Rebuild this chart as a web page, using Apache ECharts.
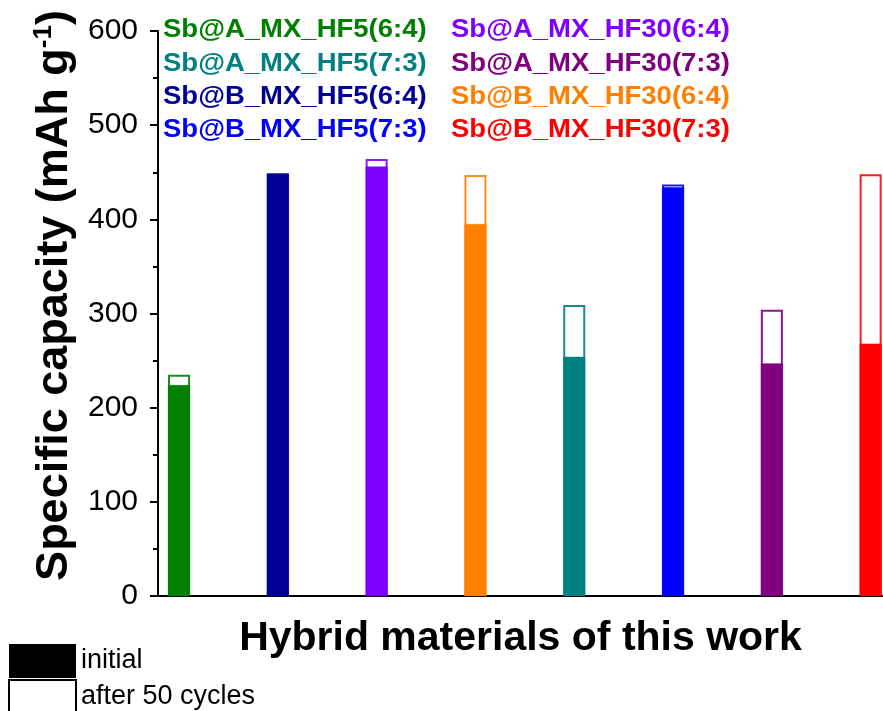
<!DOCTYPE html>
<html>
<head>
<meta charset="utf-8">
<script src="https://cdn.jsdelivr.net/npm/echarts@6/dist/echarts.min.js"></script>
<style>
  html, body { margin: 0; padding: 0; background: #fff; }
  #chart { width: 883px; height: 711px; }
</style>
</head>
<body>
<div id="chart"></div>
<script>
(function () {
	"use strict";
	// bar order along the x axis
	var barNames = ['Sb@A_MX_HF5(6:4)', 'Sb@B_MX_HF5(6:4)', 'Sb@A_MX_HF30(6:4)', 'Sb@B_MX_HF30(6:4)',
		'Sb@A_MX_HF5(7:3)', 'Sb@B_MX_HF5(7:3)', 'Sb@A_MX_HF30(7:3)', 'Sb@B_MX_HF30(7:3)'];
	var barColors = ['#008000', '#000099', '#8000ff', '#ff8000', '#008080', '#0000ff', '#800080', '#ff0000'];
	var initialValues = [224, 448, 456, 395, 254, 434, 247, 268];
	var after50Values = [235, 449, 464, 447, 309, 437, 304, 448];
	var yTicks = [0, 100, 200, 300, 400, 500, 600];

	// sample labels in the top left, two columns
	var labelCol1 = ['Sb@A_MX_HF5(6:4)', 'Sb@A_MX_HF5(7:3)', 'Sb@B_MX_HF5(6:4)', 'Sb@B_MX_HF5(7:3)'];
	var labelCol2 = ['Sb@A_MX_HF30(6:4)', 'Sb@A_MX_HF30(7:3)', 'Sb@B_MX_HF30(6:4)', 'Sb@B_MX_HF30(7:3)'];

	var chart = echarts.init(document.getElementById('chart'));

	var colorOf = function (name) {
		return barColors[barNames.indexOf(name)];
	};

	var initData = [], afterData = [];
	barNames.forEach(function (name, i) {
		initData.push({
			value: [i + 1, initialValues[i]],
			itemStyle: { color: barColors[i], borderColor: barColors[i], borderWidth: 0.5 }
		});
		afterData.push({
			value: [i + 1, after50Values[i]],
			itemStyle: { color: '#fff', borderColor: barColors[i], borderWidth: 2, opacity: 0.9 }
		});
	});

	var labels = [];
	var addCol = function (list, left) {
		list.forEach(function (t, i) {
			labels.push({
				type: 'text',
				left: left,
				top: 18 + i * 33.3,
				scaleX: 1.1,
				style: {
					text: t,
					fill: colorOf(t),
					font: 'bold 25px "Liberation Sans", Arial, sans-serif'
				}
			});
		});
	};
	addCol(labelCol1, 163);
	addCol(labelCol2, 451);

	var option = {
		backgroundColor: '#fff',
		animation: false,
		textStyle: { fontFamily: '"Liberation Sans", Arial, sans-serif' },
		grid: { left: 158, right: 0, top: 31, bottom: 115 },
		legend: {
			orient: 'vertical',
			left: 8,
			top: 644,
			height: 120,
			padding: 0,
			itemWidth: 67,
			itemHeight: 34,
			itemGap: 1,
			selectedMode: false,
			textStyle: { fontSize: 27, color: '#000' },
			data: [
				{ name: 'initial', icon: 'rect', itemStyle: { color: '#000', borderWidth: 0 } },
				{ name: 'after 50 cycles', icon: 'rect', itemStyle: { color: '#fff', borderColor: '#000', borderWidth: 2 } }
			]
		},
		xAxis: {
			type: 'value',
			min: 0.787,
			max: 8.125,
			name: 'Hybrid materials of this work',
			nameLocation: 'middle',
			nameGap: 22,
			nameTextStyle: { fontSize: 41, fontWeight: 'bold', color: '#000', verticalAlign: 'top' },
			axisLine: { show: true, onZero: false, lineStyle: { color: '#000', width: 2 } },
			axisTick: { show: false },
			axisLabel: { show: false },
			splitLine: { show: false }
		},
		yAxis: {
			type: 'value',
			min: yTicks[0],
			max: yTicks[yTicks.length - 1],
			interval: 100,
			name: 'Specific capacity (mAh g{sup|-1})',
			nameLocation: 'middle',
			nameGap: 70,
			nameTextStyle: {
				fontSize: 45, fontWeight: 'bold', color: '#000',
				padding: [0, 0, 0, 36],
				rich: { sup: { fontSize: 26, fontWeight: 'bold', color: '#000', padding: [0, 0, 22, 0] } }
			},
			axisLine: { show: true, lineStyle: { color: '#000', width: 2 } },
			axisTick: { show: true, inside: false, length: 8, lineStyle: { color: '#000', width: 2 } },
			minorTick: { show: true, splitNumber: 2, length: 5, lineStyle: { color: '#000', width: 2 } },
			axisLabel: { fontSize: 30, color: '#000', margin: 20 },
			splitLine: { show: false }
		},
		series: [
			{
				name: 'after 50 cycles',
				type: 'bar',
				barWidth: 22,
				barGap: '-100%',
				itemStyle: { color: '#fff', borderColor: '#000', borderWidth: 2 },
				data: afterData
			},
			{
				name: 'initial',
				type: 'bar',
				barWidth: 22,
				barGap: '-100%',
				itemStyle: { color: '#000' },
				data: initData
			}
		],
		graphic: labels
	};
	chart.setOption(option);
})();
</script>
</body>
</html>
